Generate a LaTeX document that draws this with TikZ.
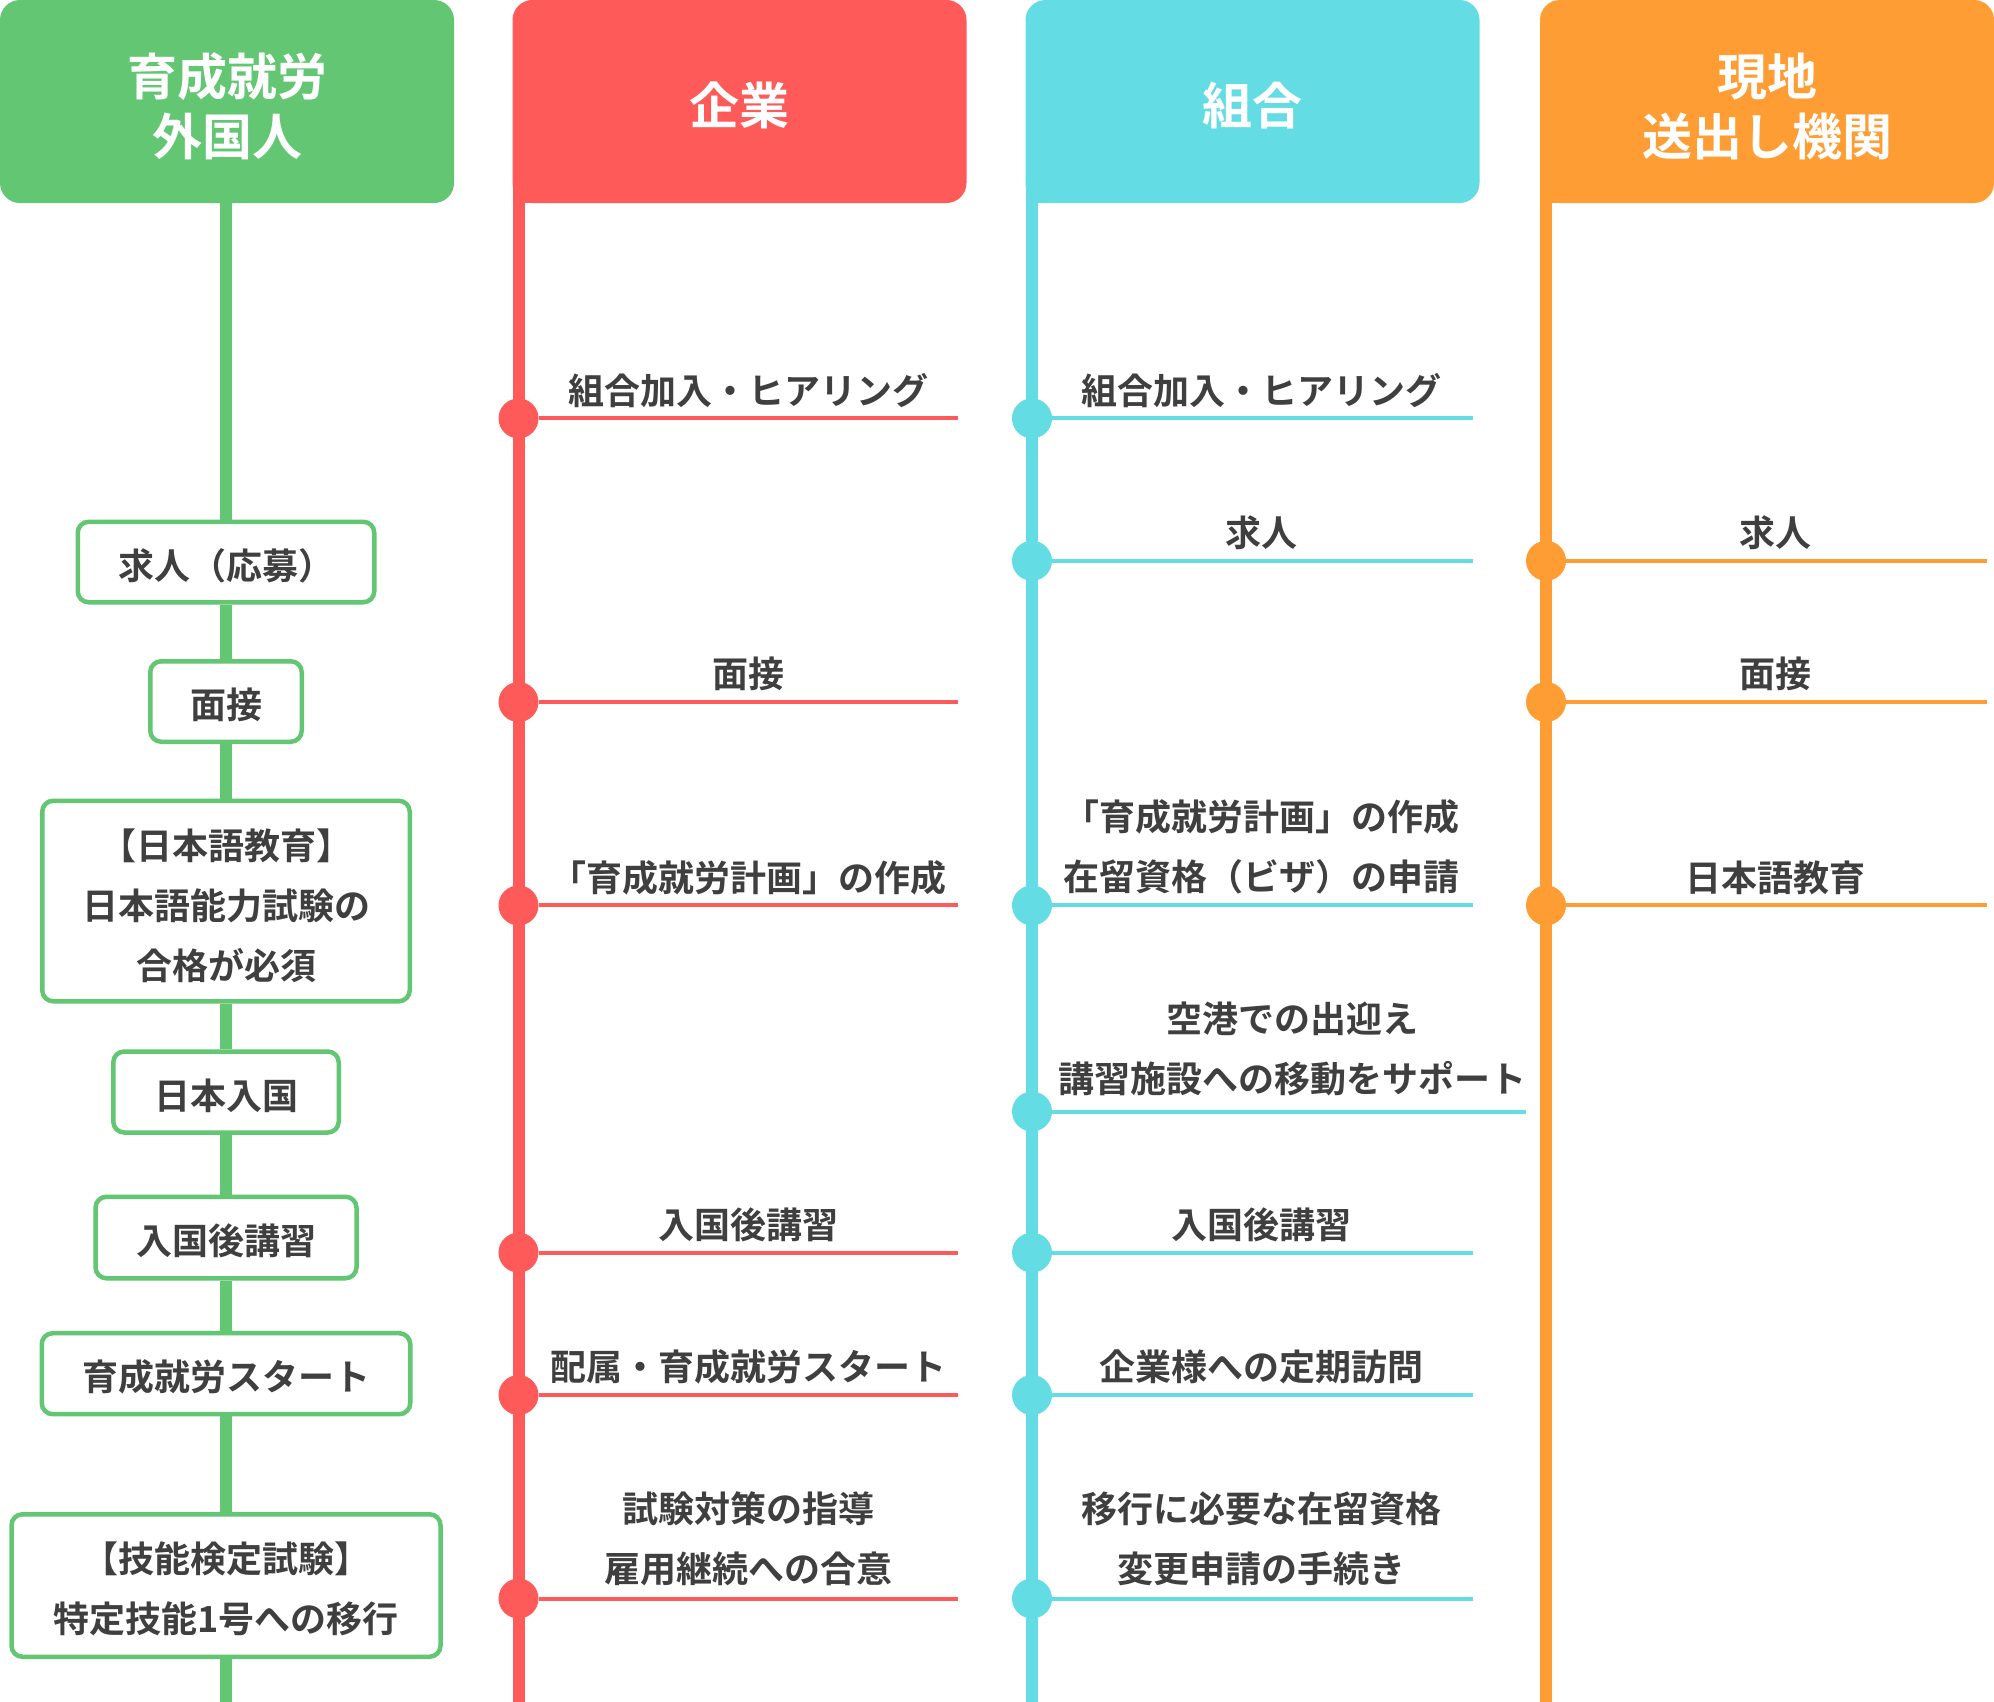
\documentclass[tikz,border=0pt]{standalone}
\usepackage{fontspec}
\setmainfont{Noto Sans CJK JP}[BoldFont=* Bold]
\definecolor{cgreen}{HTML}{62C673}
\definecolor{cred}{HTML}{FF5A5A}
\definecolor{ccyan}{HTML}{64DCE4}
\definecolor{corange}{HTML}{FF9D35}
\definecolor{ctext}{HTML}{3F3F3F}
\begin{document}
\begin{tikzpicture}[x=1pt,y=-1pt,
  hdr/.style={inner sep=0pt, outer sep=0pt, minimum height=203pt, minimum width=454pt, rounded corners=20pt, text=white, align=center, font=\bfseries\fontsize{50}{60}\selectfont},
  hdrone/.style={text height=50pt, text depth=4pt},
  stepbox/.style={draw=cgreen, line width=4.5pt, fill=white, rounded corners=11pt, inner sep=0pt, align=center, text=ctext, font=\bfseries\fontsize{36}{60}\selectfont},
  boxone/.style={text height=35pt, text depth=1pt},
  lbl/.style={inner sep=0pt, align=center, text=ctext, font=\bfseries\fontsize{36}{60}\selectfont},
  one/.style={text height=31.7pt, text depth=4.3pt},
  dot/.style={circle, inner sep=0pt, minimum size=40pt},
  hl/.style={line width=4pt},
  vl/.style={line width=12pt},
]
\useasboundingbox (0,0) rectangle (1994,1702);
\fill[white] (0,0) rectangle (1994,1702);

% headers
\node[hdr, fill=cgreen] (hA) at (227,101.5) {\rule{0pt}{53pt}育成就労\\外国人};
\node[hdr, fill=cred, hdrone] (hB) at (739.5,101.5) {企業};
\node[hdr, fill=ccyan, hdrone] (hC) at (1252.5,101.5) {組合};
\node[hdr, fill=corange] (hD) at (1767,101.5) {\rule{0pt}{53pt}現地\\送出し機関};
\fill[cred] (hB.south west) rectangle ++(30,-30);
\fill[ccyan] (hC.south west) rectangle ++(30,-30);
\fill[corange] (hD.south west) rectangle ++(30,-30);

% end coordinates of the vertical lines
\coordinate (gEnd) at (226,1702);
\coordinate (rTop) at (518.5,203);
\coordinate (rEnd) at (518.5,1702);
\coordinate (cTop) at (1032,203);
\coordinate (cEnd) at (1032,1702);
\coordinate (oTop) at (1546,203);
\coordinate (oEnd) at (1546,1702);

% left column boxes
\node[stepbox, boxone, minimum width=296.5pt, minimum height=80.5pt] (g1) at (226,562) {求人（応募）};
\node[stepbox, boxone, minimum width=151.5pt, minimum height=80.5pt] (g2) at (226,701.5) {面接};
\node[stepbox, minimum width=367.5pt, minimum height=200.5pt] (g3) at (226,901) {\rule{0pt}{40pt}【日本語教育】\\日本語能力試験の\\合格が必須};
\node[stepbox, boxone, minimum width=225.5pt, minimum height=81pt] (g4) at (226,1092) {日本入国};
\node[stepbox, boxone, minimum width=261pt, minimum height=81.5pt] (g5) at (226,1237.5) {入国後講習};
\node[stepbox, boxone, minimum width=368.5pt, minimum height=81pt] (g6) at (226,1373.7) {育成就労スタート};
\node[stepbox, minimum width=429pt, minimum height=142.5pt] (g7) at (226,1585.5) {\rule{0pt}{37pt}【技能検定試験】\\特定技能1号への移行};

\draw[vl, cgreen] (g1.north |- hA.south) -- (g1);
\draw[vl, cgreen] (g1) -- (g2);
\draw[vl, cgreen] (g2) -- (g3);
\draw[vl, cgreen] (g3) -- (g4);
\draw[vl, cgreen] (g4) -- (g5);
\draw[vl, cgreen] (g5) -- (g6);
\draw[vl, cgreen] (g6) -- (g7);
\draw[vl, cgreen] (g7) -- (gEnd);

% vertical lines
\draw[vl, cred] (rTop) -- (rEnd);
\draw[vl, ccyan] (cTop) -- (cEnd);
\draw[vl, corange] (oTop) -- (oEnd);

% red column
\foreach \n/\y in {1/418.4, 2/702, 3/905.4, 4/1252.6, 5/1395, 6/1598.5} {
  \node[dot, fill=cred] (r\n) at (518.5,\y) {};
  \coordinate (r\n e) at (958,\y);
  \draw[hl, cred] (r\n) -- (r\n e);
}
% cyan column
\foreach \n/\y/\e in {1/418.4/1472.5, 2/560.8/1472.5, 3/905.4/1472.5, 4/1111.5/1526, 5/1252.6/1472.5, 6/1395/1472.5, 7/1598.5/1472.5} {
  \node[dot, fill=ccyan] (c\n) at (1032,\y) {};
  \coordinate (c\n e) at (\e,\y);
  \draw[hl, ccyan] (c\n) -- (c\n e);
}
% orange column
\foreach \n/\y in {1/560.8, 2/702, 3/905.4} {
  \node[dot, fill=corange] (o\n) at (1546,\y) {};
  \coordinate (o\n e) at (1987,\y);
  \draw[hl, corange] (o\n) -- (o\n e);
}

% red labels
\node[lbl, one] (rl1) at (748,390.4) {組合加入・ヒアリング};
\node[lbl, one] (rl2) at (748,674) {面接};
\node[lbl, one] (rl3) at (748,877.4) {「育成就労計画」の作成};
\node[lbl, one] (rl4) at (748,1225) {入国後講習};
\node[lbl, one] (rl5) at (748,1367) {配属・育成就労スタート};
\node[lbl] (rl6) at (748,1538.5) {試験対策の指導\\雇用継続への合意};

% cyan labels
\node[lbl, one] (cl1) at (1261.5,390.4) {組合加入・ヒアリング};
\node[lbl, one] (cl2) at (1261.5,533) {求人};
\node[lbl] (cl3) at (1261.5,847.2) {「育成就労計画」の作成\\在留資格（ビザ）の申請};
\node[lbl] (cl4) at (1292,1049.2) {空港での出迎え\\講習施設への移動をサポート};
\node[lbl, one] (cl5) at (1261.5,1225) {入国後講習};
\node[lbl, one] (cl6) at (1261.5,1367) {企業様への定期訪問};
\node[lbl] (cl7) at (1261.5,1538.5) {移行に必要な在留資格\\変更申請の手続き};

% orange labels
\node[lbl, one] (ol1) at (1775.5,533) {求人};
\node[lbl, one] (ol2) at (1775.5,674) {面接};
\node[lbl, one] (ol3) at (1775.5,877.4) {日本語教育};
\end{tikzpicture}
\end{document}
